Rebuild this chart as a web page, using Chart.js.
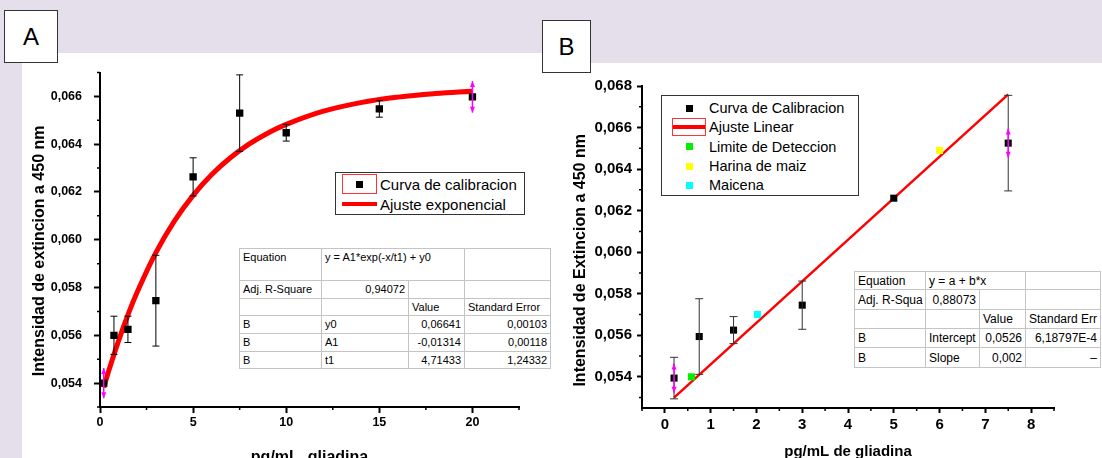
<!DOCTYPE html>
<html lang="es">
<head>
<meta charset="UTF-8" />
<title>Curvas de calibracion - gliadina</title>
<script src="https://cdn.jsdelivr.net/npm/chart.js"></script>
<style>
  body { margin: 0; width: 1102px; height: 458px; overflow: hidden; position: relative;
         background: #e4dfeb; font-family: "Liberation Sans", Arial, sans-serif; color: #000; }
  .panel { position: absolute; background: #fff; }
  canvas { position: absolute; }
  .tag { position: absolute; background: #fff; border: 1px solid #333; box-sizing: border-box;
         font-size: 24px; display: flex; align-items: center; justify-content: center; }
  .legend { position: absolute; background: #fff; border: 1px solid #333; box-sizing: border-box; }
  .legend .row { position: absolute; left: 0; right: 0; }
  .legend .mk { position: absolute; top: 50%; transform: translateY(-50%); box-sizing: border-box; }
  .legend .tx { position: absolute; top: 50%; transform: translateY(-50%); white-space: nowrap; }
  table.fit { position: absolute; border-collapse: collapse; table-layout: fixed; background: #fff;
              border: 1.5px solid #222; }
  table.fit td { border: 1px solid #c4c4c4; padding: 0 3px; white-space: nowrap; overflow: hidden; line-height: 1; }
  table.fit td.r { text-align: right; }
  table.fit td.top { vertical-align: top; padding-top: 3px; }
</style>
</head>
<body>
  <div class="panel" style="left:22px;top:53px;width:520px;height:405px"></div>
  <div class="panel" style="left:542px;top:63px;width:560px;height:395px"></div>

  <canvas id="chartA" width="519" height="420" style="left:22px;top:53px"></canvas>
  <canvas id="chartB" width="561" height="410" style="left:541px;top:63px"></canvas>

  <div class="tag" style="left:4px;top:10px;width:54px;height:53px">A</div>
  <div class="tag" style="left:542px;top:20px;width:49px;height:53px">B</div>

  <div class="legend" id="legendA" style="left:335px;top:172px;width:190px;height:43px;font-size:15px"></div>
  <div class="legend" id="legendB" style="left:661px;top:95px;width:198px;height:101px;font-size:14.5px"></div>

  <table class="fit" style="left:239px;top:248px;width:311px;font-size:11px">
    <colgroup><col style="width:82px"><col style="width:87px"><col style="width:56px"><col style="width:86px"></colgroup>
    <tr style="height:32px"><td class="top">Equation</td><td class="top" colspan="2">y = A1*exp(-x/t1) + y0</td><td></td></tr>
    <tr style="height:18px"><td>Adj. R-Square</td><td class="r">0,94072</td><td></td><td></td></tr>
    <tr style="height:17px"><td></td><td></td><td>Value</td><td>Standard Error</td></tr>
    <tr style="height:18px"><td>B</td><td>y0</td><td class="r">0,06641</td><td class="r">0,00103</td></tr>
    <tr style="height:18px"><td>B</td><td>A1</td><td class="r">-0,01314</td><td class="r">0,00118</td></tr>
    <tr style="height:17px"><td>B</td><td>t1</td><td class="r">4,71433</td><td class="r">1,24332</td></tr>
  </table>

  <table class="fit" style="left:854px;top:271px;width:246px;font-size:12px">
    <colgroup><col style="width:71px"><col style="width:54px"><col style="width:46px"><col style="width:75px"></colgroup>
    <tr style="height:18px"><td>Equation</td><td colspan="2">y = a + b*x</td><td></td></tr>
    <tr style="height:20px"><td>Adj. R-Squa</td><td class="r">0,88073</td><td></td><td></td></tr>
    <tr style="height:19px"><td></td><td></td><td>Value</td><td>Standard Err</td></tr>
    <tr style="height:19px"><td>B</td><td>Intercept</td><td class="r">0,0526</td><td class="r">6,18797E-4</td></tr>
    <tr style="height:20px"><td>B</td><td>Slope</td><td class="r">0,002</td><td class="r">–</td></tr>
  </table>

<script>
// ---- Panel A: curva de calibracion, ajuste exponencial
const xA = [0.2, 0.75, 1.5, 3, 5, 7.5, 10, 15, 20];
const yA = [0.0540, 0.0560, 0.05625, 0.05745, 0.06263, 0.06530, 0.06448, 0.06548, 0.06598];
const errA = [0, 0.0008, 0.00055, 0.0019, 0.0008, 0.0016, 0.00035, 0.00035, 0];
const pinkXA = [0.2, 20];
const pinkYA = [0.0540, 0.06598];
const pinkErrA = [0.00063, 0.00066];
const fitXA = [0.2, 0.5, 1, 1.5, 2, 3, 4, 5, 6, 7, 8, 9, 10, 12, 14, 16, 18, 20];
const fitYA = [0.05382, 0.05459, 0.05578, 0.05685, 0.05781, 0.05946, 0.06079, 0.06186, 0.06273, 0.06343,
               0.06400, 0.06446, 0.06483, 0.06538, 0.06574, 0.06597, 0.06612, 0.06622];
const xTicksA = [0, 5, 10, 15, 20];
const xMinorA = [2.5, 7.5, 12.5, 17.5, 22.5];
const yTicksA = [0.054, 0.056, 0.058, 0.060, 0.062, 0.064, 0.066];
const yMinorA = [0.053, 0.055, 0.057, 0.059, 0.061, 0.063, 0.065, 0.067];

// ---- Panel B: ajuste lineal y muestras
const xB = [0.2, 0.75, 1.5, 3, 5, 7.5];
const yB = [0.05394, 0.05594, 0.05625, 0.05745, 0.0626, 0.06525];
const errB = [0.001, 0.00182, 0.00065, 0.00116, 0, 0.0023];
const pinkXB = [0.2, 7.5];
const pinkYB = [0.05394, 0.06525];
const pinkErrB = [0.0007, 0.0007];
const lodX = [0.58];
const lodY = [0.0540];
const harinaX = [6.0];
const harinaY = [0.0649];
const maicenaX = [2.02];
const maicenaY = [0.0570];
const fitXB = [0.2, 7.5];
const fitYB = [0.0530, 0.0676];
const xTicksB = [0, 1, 2, 3, 4, 5, 6, 7, 8];
const xMinorB = [-0.5, 0.5, 1.5, 2.5, 3.5, 4.5, 5.5, 6.5, 7.5, 8.5];
const yTicksB = [0.054, 0.056, 0.058, 0.060, 0.062, 0.064, 0.066, 0.068];
const yMinorB = [0.053, 0.055, 0.057, 0.059, 0.061, 0.063, 0.065, 0.067];

const pts = (xs, ys) => xs.map((x, i) => ({ x: x, y: ys[i] }));

function fontExists(name) {
  const c = document.createElement('canvas').getContext('2d');
  c.font = '40px monospace';
  const base = c.measureText('0,066 Curva').width;
  c.font = '40px "' + name + '", monospace';
  return c.measureText('0,066 Curva').width !== base;
}

Chart.defaults.font.family = '"Liberation Sans", Arial, sans-serif';
Chart.defaults.color = '#000';

const narrowOK = fontExists('Liberation Sans Narrow');
const tickFontA = narrowOK
  ? { family: '"Liberation Sans Narrow", "Liberation Sans", Arial', size: 16, weight: 'bold' }
  : { size: 12.5, weight: 'bold' };
const tickFontB = { size: 15, weight: 'bold' };

const fmtY = v => v.toFixed(3).replace('.', ',');
const fmtX = v => String(v);

function linearAxis(o) {
  return {
    type: 'linear', min: o.min, max: o.max,
    afterBuildTicks: s => { s.ticks = o.ticks.map(v => ({ value: v })); },
    afterFit: s => { if (s.isHorizontal()) s.height = o.size; else s.width = o.size; },
    border: { display: true, color: '#000', width: 2 },
    grid: { drawOnChartArea: false, drawTicks: true, tickLength: o.tickLen, tickColor: '#000', tickWidth: 2 },
    ticks: { font: o.font, padding: o.pad, maxRotation: 0, autoSkip: false, callback: o.fmt },
    title: { display: true, text: o.title, font: o.titleFont, padding: o.titlePad }
  };
}

// minor tick marks, drawn through the chart's own scales
function makeMinorTicks(xs, ys, len) {
  return {
    id: 'minorTicks',
    afterDraw(chart) {
      const { ctx, scales: { x, y } } = chart;
      ctx.save();
      ctx.strokeStyle = '#000';
      ctx.lineWidth = 1.5;
      ctx.beginPath();
      xs.forEach(v => { const px = x.getPixelForValue(v); ctx.moveTo(px, x.top); ctx.lineTo(px, x.top + len); });
      ys.forEach(v => { const py = y.getPixelForValue(v); ctx.moveTo(y.right, py); ctx.lineTo(y.right - len, py); });
      ctx.stroke();
      ctx.restore();
    }
  };
}

// error bars: black with caps, pink with arrow heads
function makeErrorBars(sets) {
  return {
    id: 'errorBars',
    afterDatasetsDraw(chart) {
      const { ctx, scales: { x, y } } = chart;
      ctx.save();
      sets.forEach(s => {
        s.xs.forEach((xv, i) => {
          const e = s.errs[i];
          if (!e) return;
          const px = x.getPixelForValue(xv);
          const top = y.getPixelForValue(s.ys[i] + e);
          const bot = y.getPixelForValue(s.ys[i] - e);
          ctx.strokeStyle = s.color;
          ctx.fillStyle = s.color;
          ctx.lineWidth = s.width;
          ctx.beginPath();
          ctx.moveTo(px, top); ctx.lineTo(px, bot);
          if (s.arrow) {
            ctx.stroke();
            ctx.beginPath();
            ctx.moveTo(px, top); ctx.lineTo(px - 2.5, top + 6); ctx.lineTo(px + 2.5, top + 6); ctx.closePath();
            ctx.moveTo(px, bot); ctx.lineTo(px - 2.5, bot - 6); ctx.lineTo(px + 2.5, bot - 6); ctx.closePath();
            ctx.fill();
          } else {
            ctx.moveTo(px - s.cap, top); ctx.lineTo(px + s.cap, top);
            ctx.moveTo(px - s.cap, bot); ctx.lineTo(px + s.cap, bot);
            ctx.stroke();
          }
        });
      });
      ctx.restore();
    }
  };
}

function buildLegend(el, datasets, o) {
  datasets.forEach((d, i) => {
    const row = document.createElement('div');
    row.className = 'row';
    row.style.top = (o.top + i * o.rowH) + 'px';
    row.style.height = o.rowH + 'px';
    const mk = document.createElement('span');
    mk.className = 'mk';
    mk.style.left = o.mkLeft + 'px';
    mk.style.width = o.mkW + 'px';
    mk.style.height = o.mkH + 'px';
    if (d.legendBoxed) mk.style.border = '1px solid #f33';
    const inner = document.createElement('span');
    inner.style.position = 'absolute';
    inner.style.top = '50%';
    if (d.showLine) {
      inner.style.left = '0'; inner.style.right = '0';
      inner.style.height = d.legendLine + 'px';
      inner.style.marginTop = (-d.legendLine / 2) + 'px';
      inner.style.background = d.borderColor;
    } else {
      inner.style.left = '50%';
      inner.style.width = o.sq + 'px'; inner.style.height = o.sq + 'px';
      inner.style.margin = (-o.sq / 2) + 'px 0 0 ' + (-o.sq / 2) + 'px';
      inner.style.background = d.backgroundColor;
    }
    mk.appendChild(inner);
    const tx = document.createElement('span');
    tx.className = 'tx';
    tx.style.left = o.textLeft + 'px';
    tx.textContent = d.label;
    row.appendChild(mk);
    row.appendChild(tx);
    el.appendChild(row);
  });
}

const baseOptions = (padding, scales) => ({
  responsive: false, animation: false, devicePixelRatio: 1, events: [],
  layout: { padding: padding },
  plugins: { legend: { display: false }, tooltip: { enabled: false } },
  scales: scales
});

// ---------- Chart A
const dataA = [
  { label: 'Curva de calibracion', data: pts(xA, yA), backgroundColor: '#000', borderWidth: 0,
    pointStyle: 'rect', pointRadius: 5.2, order: 1, legendBoxed: true },
  { label: 'Ajuste exponencial', data: pts(fitXA, fitYA), showLine: true, borderColor: '#ff0000',
    borderWidth: 5, pointRadius: 0, tension: 0.4, order: 2, legendLine: 4 }
];
const chartA = new Chart(document.getElementById('chartA'), {
  type: 'scatter',
  data: { datasets: dataA },
  options: baseOptions({ left: 0, top: 17, right: 22, bottom: 0 }, {
    x: linearAxis({ min: 0, max: 22.5, ticks: xTicksA, fmt: fmtX, size: 66, tickLen: 6, pad: 2,
      font: tickFontA, title: 'pg/mL  gliadina', titleFont: { size: 16, weight: 'bold' },
      titlePad: { top: 0, bottom: 6 } }),
    y: linearAxis({ min: 0.053, max: 0.067, ticks: yTicksA, fmt: fmtY, size: 78, tickLen: 6, pad: 12,
      font: tickFontA, title: 'Intensidad de extincion a 450 nm     ', titleFont: { size: 16, weight: 'bold' },
      titlePad: { top: 8, bottom: 0 } })
  }),
  plugins: [
    makeMinorTicks(xMinorA, yMinorA, 3),
    makeErrorBars([
      { xs: xA, ys: yA, errs: errA, color: '#000', width: 1, cap: 3.5 },
      { xs: pinkXA, ys: pinkYA, errs: pinkErrA, color: '#ff00ff', width: 1.5, arrow: true }
    ])
  ]
});

// ---------- Chart B
const dataB = [
  { label: 'Curva de Calibracion', data: pts(xB, yB), backgroundColor: '#000', borderWidth: 0,
    pointStyle: 'rect', pointRadius: 5, order: 1 },
  { label: 'Ajuste Linear', data: pts(fitXB, fitYB), showLine: true, borderColor: '#ff0000',
    borderWidth: 2.5, pointRadius: 0, order: 2, legendLine: 4, legendBoxed: true },
  { label: 'Limite de Deteccion', data: pts(lodX, lodY), backgroundColor: '#00f000', borderWidth: 0,
    pointStyle: 'rect', pointRadius: 5, order: 1 },
  { label: 'Harina de maiz', data: pts(harinaX, harinaY), backgroundColor: '#ffff00', borderWidth: 0,
    pointStyle: 'rect', pointRadius: 5, order: 1 },
  { label: 'Maicena', data: pts(maicenaX, maicenaY), backgroundColor: '#00ffff', borderWidth: 0,
    pointStyle: 'rect', pointRadius: 5, order: 1 }
];
const chartB = new Chart(document.getElementById('chartB'), {
  type: 'scatter',
  data: { datasets: dataB },
  options: baseOptions({ left: 0, top: 23, right: 48, bottom: 0 }, {
    x: linearAxis({ min: -0.5, max: 8.5, ticks: xTicksB, fmt: fmtX, size: 65, tickLen: 5, pad: 3,
      font: tickFontB, title: 'pg/mL de gliadina', titleFont: { size: 15, weight: 'bold' },
      titlePad: { top: 0, bottom: 12 } }),
    y: linearAxis({ min: 0.0525, max: 0.068, ticks: yTicksB, fmt: fmtY, size: 101, tickLen: 5, pad: 5,
      font: tickFontB, title: 'Intensidad de Extincion a 450 nm      ', titleFont: { size: 16, weight: 'bold' },
      titlePad: { top: 30, bottom: 0 } })
  }),
  plugins: [
    makeMinorTicks(xMinorB, yMinorB, 3),
    makeErrorBars([
      { xs: xB, ys: yB, errs: errB, color: '#333', width: 1, cap: 4 },
      { xs: pinkXB, ys: pinkYB, errs: pinkErrB, color: '#ff00ff', width: 1.5, arrow: true }
    ])
  ]
});

buildLegend(document.getElementById('legendA'), dataA,
  { top: 1, rowH: 20, mkLeft: 6, mkW: 35, mkH: 20, sq: 7, textLeft: 44 });
buildLegend(document.getElementById('legendB'), dataB,
  { top: 2.5, rowH: 19.3, mkLeft: 10, mkW: 34, mkH: 18, sq: 7, textLeft: 47 });
</script>
</body>
</html>
